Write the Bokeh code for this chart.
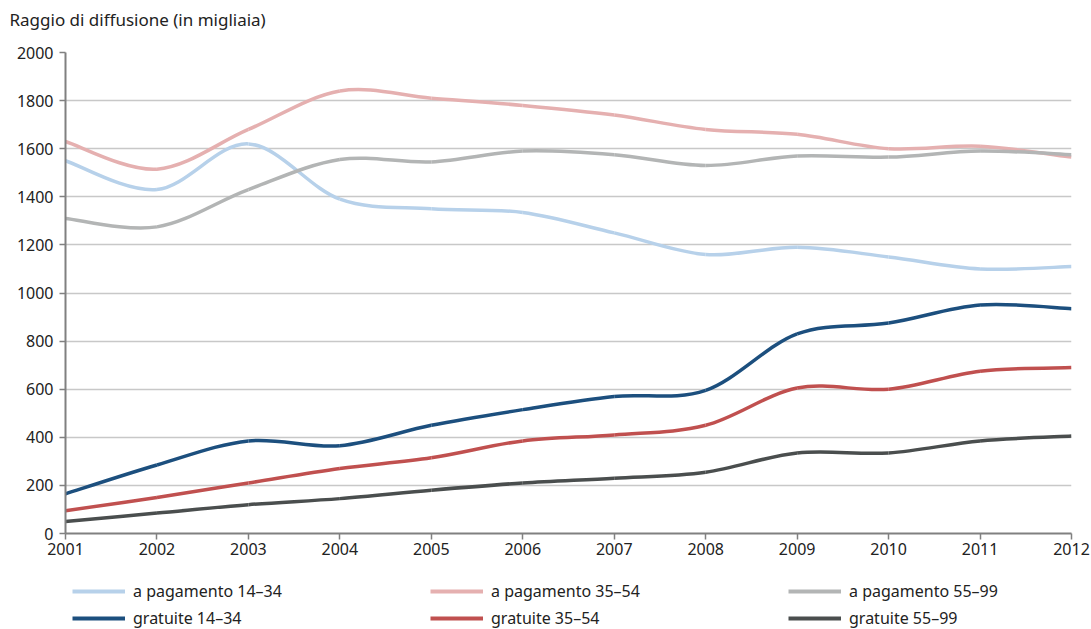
from bokeh.plotting import figure
from bokeh.models import Legend, LegendItem, ColumnDataSource, FixedTicker, Range1d, Title
from bokeh.layouts import column
from bokeh.embed import file_html
from bokeh.resources import INLINE
import numpy as np

years = [2001, 2002, 2003, 2004, 2005, 2006, 2007, 2008, 2009, 2010, 2011, 2012]
pag_14_34 = [1550, 1430, 1620, 1390, 1350, 1335, 1250, 1160, 1190, 1150, 1100, 1110]
pag_35_54 = [1630, 1515, 1680, 1840, 1810, 1780, 1740, 1680, 1660, 1600, 1610, 1565]
pag_55_99 = [1310, 1275, 1430, 1555, 1545, 1590, 1575, 1530, 1570, 1565, 1590, 1575]
gra_14_34 = [165, 285, 385, 365, 450, 515, 570, 595, 830, 875, 950, 935]
gra_35_54 = [95, 150, 210, 270, 315, 385, 410, 450, 605, 600, 675, 690]
gra_55_99 = [50, 85, 120, 145, 180, 210, 230, 255, 335, 335, 385, 405]

# legend order (column-major: each column holds "a pagamento" above "gratuite")
series = [
    ("a pagamento 14–34", pag_14_34, "#b7d1ea"),
    ("gratuite 14–34", gra_14_34, "#1c4f7e"),
    ("a pagamento 35–54", pag_35_54, "#e5b0b0"),
    ("gratuite 35–54", gra_35_54, "#c0504f"),
    ("a pagamento 55–99", pag_55_99, "#b3b5b5"),
    ("gratuite 55–99", gra_55_99, "#4a4e4e"),
]
y_ticks = [0, 200, 400, 600, 800, 1000, 1200, 1400, 1600, 1800, 2000]

FONT = "Noto Sans"

p = figure(width=1091, height=565, output_backend="svg", toolbar_location=None,
           x_range=Range1d(2001, 2012), y_range=Range1d(0, 2000),
           min_border_left=65, min_border_right=20, min_border_top=52, min_border_bottom=32)
p.title = None
p.outline_line_color = None
p.background_fill_color = "white"
p.border_fill_color = "white"

p.add_layout(Title(text=" ", text_font_size="4px"), "above")
p.add_layout(Title(text="Raggio di diffusione (in migliaia)", text_font=FONT,
                   text_font_size="17px", text_font_style="normal",
                   text_color="#222222", offset=-56), "above")

p.xgrid.grid_line_color = None
p.ygrid.grid_line_color = "#c8c8c8"
p.ygrid.grid_line_width = 1.5

for ax in (p.xaxis[0], p.yaxis[0]):
    ax.axis_line_color = "#808080"
    ax.axis_line_width = 2
    ax.major_tick_line_color = "#808080"
    ax.major_tick_line_width = 1.5
    ax.major_tick_out = 6
    ax.major_tick_in = 0
    ax.minor_tick_line_color = None
    ax.major_label_text_font = FONT
    ax.major_label_text_font_size = "16px"
    ax.major_label_text_color = "#222222"

p.xaxis.ticker = FixedTicker(ticks=years)
p.yaxis.ticker = FixedTicker(ticks=y_ticks)
p.xaxis.major_label_standoff = 3
p.yaxis.major_label_standoff = 6

# legend-only figure below the chart
p2 = figure(width=1091, height=64, output_backend="svg", toolbar_location=None,
            x_range=Range1d(0, 1), y_range=Range1d(0, 1),
            x_axis_location=None, y_axis_location=None, min_border=0)
p2.title = None
p2.outline_line_color = None
p2.grid.grid_line_color = None
p2.background_fill_color = "white"
p2.border_fill_color = "white"

items = []
for label, vals, color in series:
    x = np.array(years, dtype=float)
    y = np.array(vals, dtype=float)
    xp = np.concatenate([[x[0]], x, [x[-1]]])
    yp = np.concatenate([[y[0]], y, [y[-1]]])
    n = len(x)
    src = ColumnDataSource(dict(
        x0=x[:-1], y0=y[:-1], x1=x[1:], y1=y[1:],
        cx0=x[:-1] + (xp[2:n + 1] - xp[0:n - 1]) / 6.0,
        cy0=y[:-1] + (yp[2:n + 1] - yp[0:n - 1]) / 6.0,
        cx1=x[1:] - (xp[3:n + 2] - xp[1:n]) / 6.0,
        cy1=y[1:] - (yp[3:n + 2] - yp[1:n]) / 6.0,
    ))
    p.bezier(x0="x0", y0="y0", x1="x1", y1="y1", cx0="cx0", cy0="cy0",
             cx1="cx1", cy1="cy1", source=src, line_color=color, line_width=3.5)
    # same series in the legend figure (outside its visible range) to carry the legend key
    r2 = p2.line(years, vals, line_color=color, line_width=4)
    items.append(LegendItem(label=label, renderers=[r2]))

legend = Legend(items=items, ncols=3,
                label_text_font=FONT, label_text_font_size="16px", label_text_color="#222222",
                glyph_width=53, glyph_height=16, label_standoff=8, label_width=292,
                spacing=5, padding=0, margin=0, border_line_color=None,
                background_fill_alpha=0, label_height=16,
                location=(7, 0))
p2.add_layout(legend, "center")

layout = column(p, p2, spacing=0)
open("out.html", "w").write(file_html(layout, INLINE))
